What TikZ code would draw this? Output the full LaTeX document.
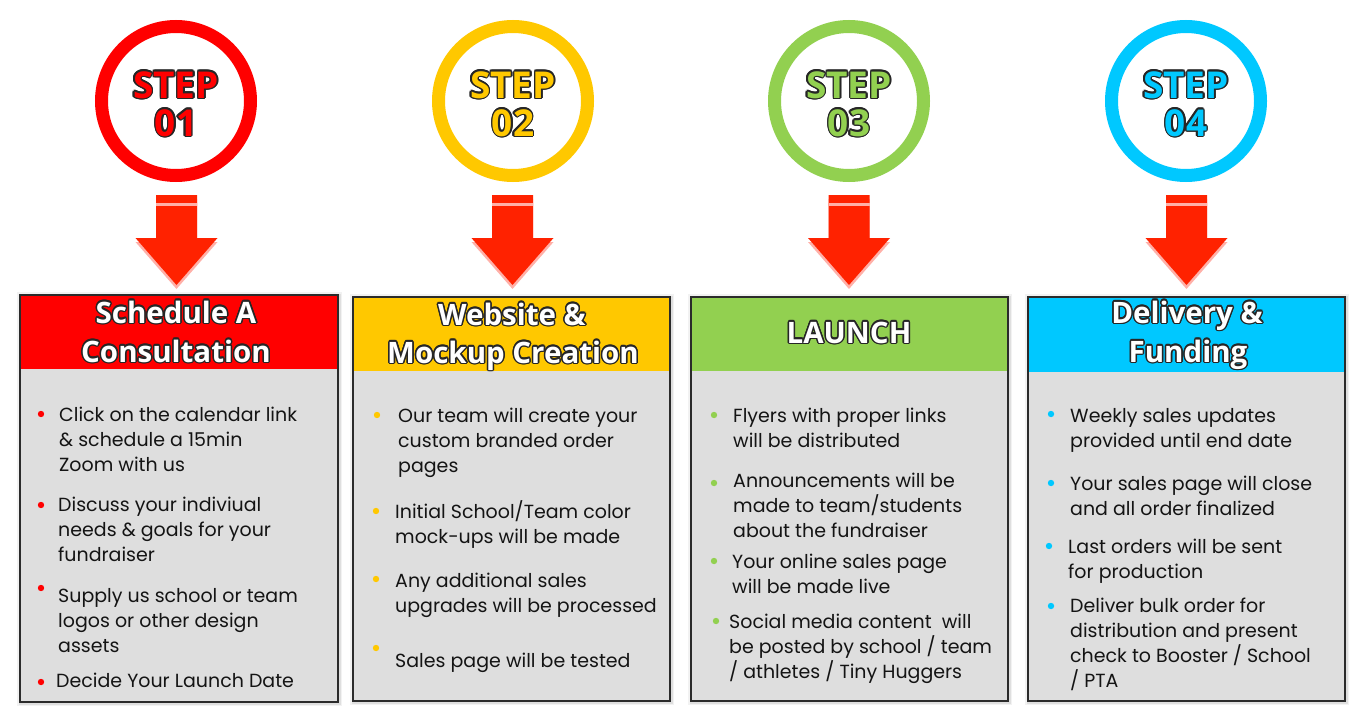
\documentclass[tikz,border=0pt]{standalone}
\usepackage{fontspec}
\setmainfont{Poppins}
\newfontfamily\osans{Open Sans}
\usetikzlibrary{calc}
\definecolor{cred}{HTML}{FF0000}
\definecolor{cyel}{HTML}{FFC800}
\definecolor{cgrn}{HTML}{92D050}
\definecolor{cblu}{HTML}{00C8FF}
\definecolor{arrowred}{HTML}{FF2200}
\definecolor{arrowpink}{HTML}{FFB0A8}
\definecolor{bodygray}{HTML}{DEDEDE}
\definecolor{edgegray}{HTML}{2B2B2B}
\definecolor{ink}{HTML}{141414}
\definecolor{outl}{HTML}{262626}
\tikzset{
  body/.style={font=\fontsize{19}{25}\selectfont, text=ink, inner sep=0pt, anchor=base west},
  headfont/.style={font=\osans\bfseries\fontsize{29.5}{30}\selectfont, inner sep=0pt, anchor=base},
  stepfont/.style={font=\osans\bfseries\fontsize{37}{40}\selectfont, inner sep=0pt, anchor=base},
  ring/.style={draw=#1, line width=13pt, circle, minimum size=149pt, inner sep=0pt},
  dot/.style={circle, fill=#1, inner sep=0pt, minimum size=6.4pt},
}
% outlined text: name, position, style, fill colour, outline colour, text
\newcommand\outtext[6]{%
  \foreach \a in {0,30,...,330}{\node[#3, text=#5] at ($(#2)+(\a:1.5)$) {#6};}
  \node[#3, text=#4] (#1) at (#2) {#6};
}
% bullet: name, colour, bullet x, bullet y, text x, first baseline, lines
\newcommand\bitem[7]{%
  \node[dot=#2] (#1-dot) at (#3,#4) {};
  \foreach \ln [count=\i from 0] in {#7}{\node[body] (#1-\i) at (#5,#6+25*\i) {\ln};}
}
% panel: name, x1, y1, x2, y2, header bottom, colour
\newcommand\panel[7]{%
  \fill[black,opacity=0.05] (#2-3,#3-3) rectangle (#4+4,#5+4);
  \fill[black,opacity=0.08] (#2-1,#3-1) rectangle (#4+2.5,#5+2.5);
  \fill[bodygray] (#2,#3) rectangle (#4,#5);
  \fill[#7] (#2,#3) rectangle (#4,#6);
  \draw[edgegray, line width=1.6pt] (#2,#3) rectangle (#4,#5);
  \coordinate (#1) at ($(#2,#3)!0.5!(#4,#5)$);
}
% arrow: centre x
\newcommand\stepdown[1]{%
  \begin{scope}[shift={(#1,0)}]
    \fill[arrowpink] (-20.5,199) -- (20.5,199) -- (20.5,242) -- (41,242) -- (0,289) -- (-41,242) -- (-20.5,242) -- cycle;
    \fill[arrowred] (-20.5,195) -- (20.5,195) -- (20.5,238) -- (41,238) -- (0,285) -- (-41,238) -- (-20.5,238) -- cycle;
    \fill[arrowpink] (-20.5,203) rectangle (20.5,206);
  \end{scope}
}
\begin{document}
\begin{tikzpicture}[x=1pt,y=-1pt]
\useasboundingbox[fill=white] (0,0) rectangle (1366,720);

% ---- step circles
\node[ring=cred] (c1) at (176,101) {};
\node[ring=cyel] (c2) at (513,101) {};
\node[ring=cgrn] (c3) at (849,101) {};
\node[ring=cblu] (c4) at (1186,101) {};
\outtext{s1a}{176,98}{stepfont}{cred}{outl}{STEP}
\outtext{s1b}{176,136}{stepfont}{cred}{outl}{01}
\outtext{s2a}{513,98}{stepfont}{cyel}{outl}{STEP}
\outtext{s2b}{513,136}{stepfont}{cyel}{outl}{02}
\outtext{s3a}{849,98}{stepfont}{cgrn}{outl}{STEP}
\outtext{s3b}{849,136}{stepfont}{cgrn}{outl}{03}
\outtext{s4a}{1186,98}{stepfont}{cblu}{outl}{STEP}
\outtext{s4b}{1186,136}{stepfont}{cblu}{outl}{04}

% ---- arrows
\stepdown{176.5}
\stepdown{512.5}
\stepdown{849}
\stepdown{1186.5}

% ---- panels
\panel{p1}{20}{295}{338}{702}{369}{cred}
\panel{p2}{353}{297}{670}{701}{371}{cyel}
\panel{p3}{691}{297}{1008}{701}{371}{cgrn}
\panel{p4}{1028}{297}{1345}{701}{372}{cblu}

% ---- headers
\outtext{h1a}{176,323}{headfont}{white}{outl}{Schedule A}
\outtext{h1b}{176,362}{headfont}{white}{outl}{Consultation}
\outtext{h2a}{512,325}{headfont}{white}{outl}{Website \&}
\outtext{h2b}{513,363}{headfont}{white}{outl}{Mockup Creation}
\outtext{h3a}{849,343}{headfont}{white}{outl}{LAUNCH}
\outtext{h4a}{1187,323}{headfont}{white}{outl}{Delivery \&}
\outtext{h4b}{1188,362}{headfont}{white}{outl}{Funding}

% ---- panel 1
\bitem{a1}{cred}{41}{414}{59}{421}{Click on the calendar link,\& schedule a 15min,Zoom with us}
\bitem{a2}{cred}{41}{505}{58}{511}{Discuss your indiviual,needs \& goals for your,fundraiser}
\bitem{a3}{cred}{41}{588}{58}{602}{Supply us school or team,logos or other design,assets}
\bitem{a4}{cred}{41}{682}{56}{687}{Decide Your Launch Date}

% ---- panel 2
\bitem{b1}{cyel}{377}{415}{398}{422}{Our team will create your,custom branded order,pages}
\bitem{b2}{cyel}{376}{511}{395}{518}{Initial School/Team color,mock-ups will be made}
\bitem{b3}{cyel}{376}{579}{395}{587}{Any additional sales,upgrades will be processed}
\bitem{b4}{cyel}{376}{648}{395}{667}{Sales page will be tested}

% ---- panel 3
\bitem{d1}{cgrn}{714}{415}{733}{422}{Flyers with proper links,will be distributed}
\bitem{d2}{cgrn}{714}{483}{733}{487}{Announcements will be,made to team/students,about the fundraiser}
\bitem{d3}{cgrn}{714}{561}{732}{568}{Your online sales page,will be made live}
\bitem{d4}{cgrn}{716}{621}{729}{628}{Social media content~ will,be posted by school / team,/ athletes / Tiny Huggers}

% ---- panel 4
\bitem{e1}{cblu}{1051}{414}{1070}{422}{Weekly sales updates,provided until end date}
\bitem{e2}{cblu}{1051}{483}{1070}{490}{Your sales page will close,and all order finalized}
\bitem{e3}{cblu}{1049}{546}{1068}{553}{Last orders will be sent,for production}
\bitem{e4}{cblu}{1051}{606}{1070}{612}{Deliver bulk order for,distribution and present,check to Booster / School,/ PTA}
\end{tikzpicture}
\end{document}
